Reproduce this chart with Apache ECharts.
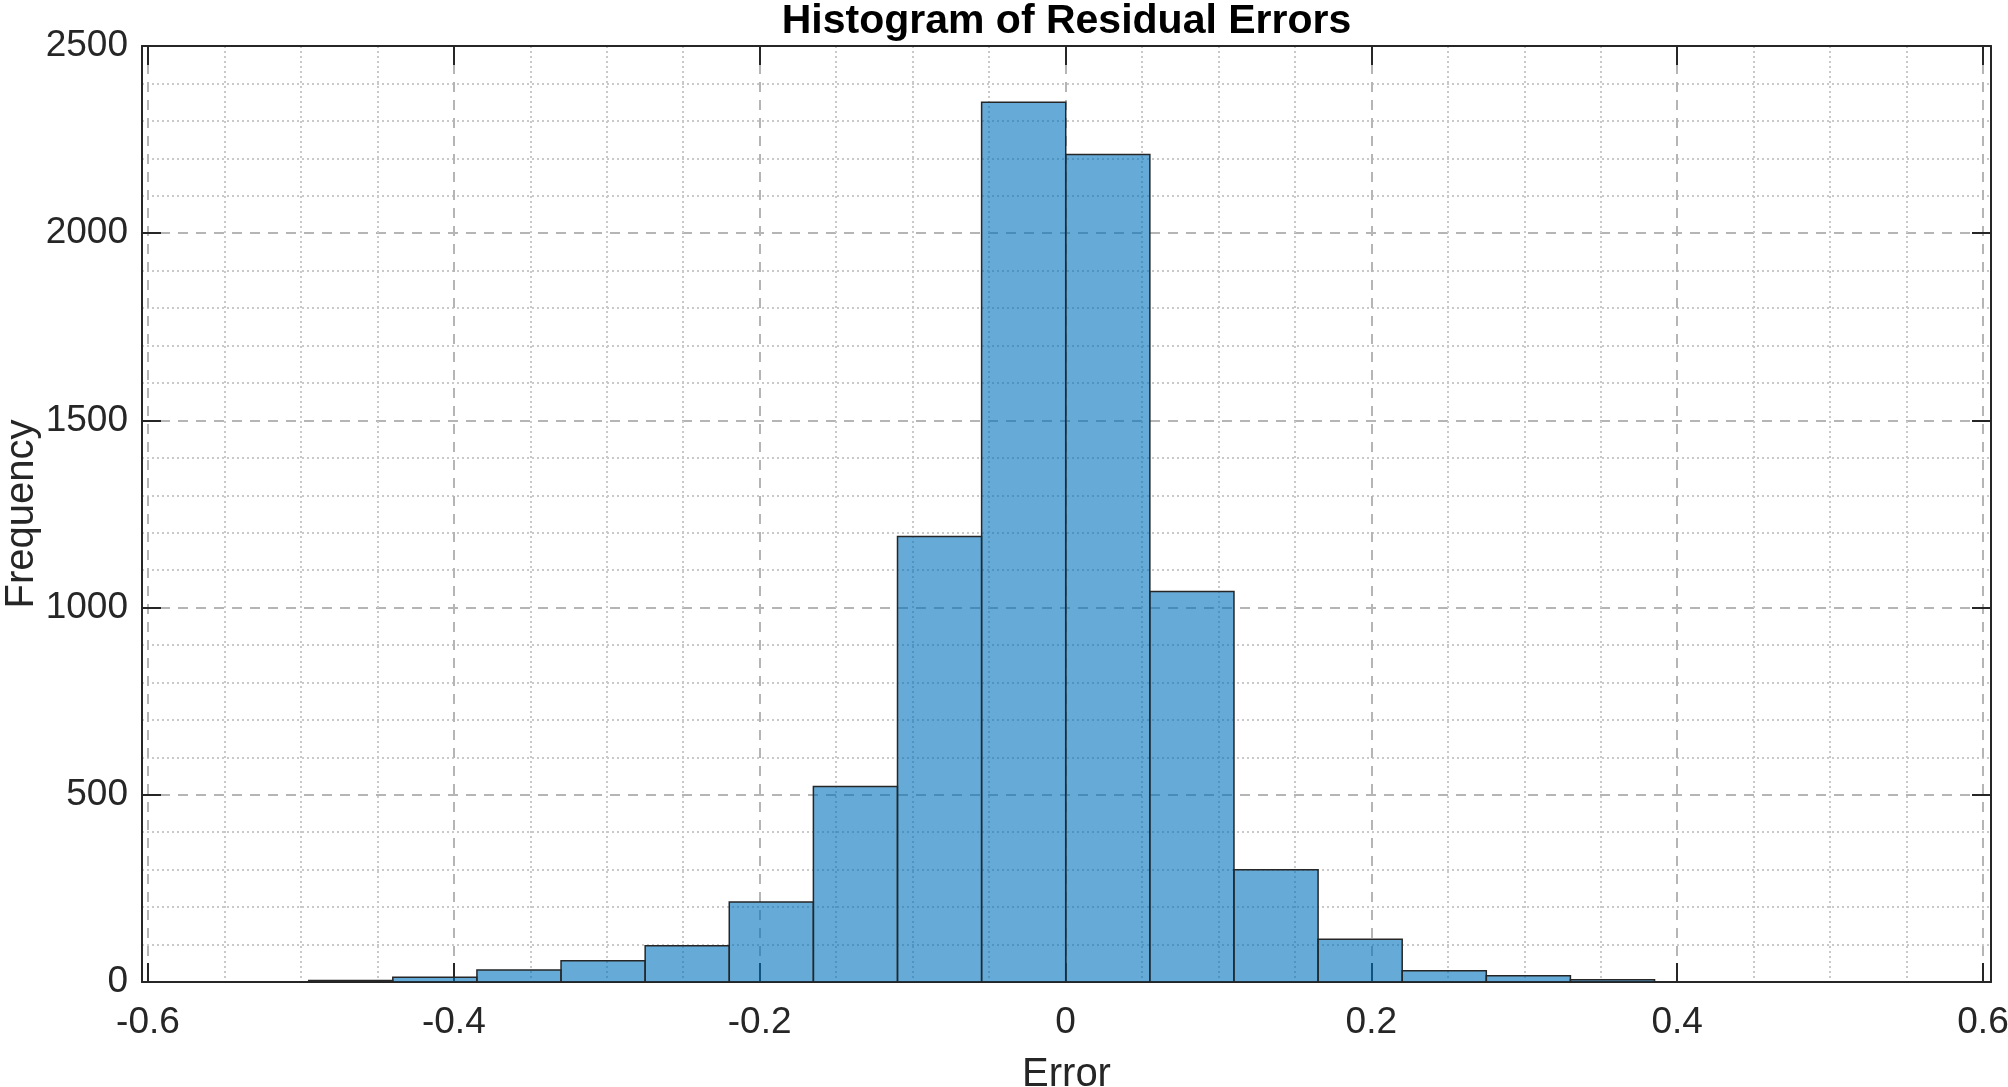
<!DOCTYPE html>
<html>
<head>
<meta charset="utf-8">
<script src="https://cdn.jsdelivr.net/npm/echarts@6/dist/echarts.min.js"></script>
<style>html,body{margin:0;padding:0;background:#fff}#c{width:2008px;height:1087px}</style>
</head>
<body>
<div id="c"></div>
<script>
// Histogram bin edges (Error) and counts (Frequency)
var binEdges = [-0.495, -0.44, -0.385, -0.33, -0.275, -0.22, -0.165, -0.11, -0.055, 0, 0.055, 0.11, 0.165, 0.22, 0.275, 0.33, 0.385];
var counts = [4, 13, 32, 57, 97, 214, 522, 1190, 2350, 2210, 1043, 300, 114, 30, 17, 6];
var xTicks = [-0.6, -0.4, -0.2, 0, 0.2, 0.4, 0.6];
var yTicks = [0, 500, 1000, 1500, 2000, 2500];

var data = [];
for (var i = 0; i < counts.length; i++) data.push([binEdges[i], binEdges[i + 1], counts[i]]);

var TXT = '#262626';
var FONT = '"Liberation Sans", Arial, sans-serif';
var majorLine = { show: true, lineStyle: { color: '#b5b5b5', width: 2, type: [10, 8] } };
var minorLine = { show: true, lineStyle: { color: '#c9c9c9', width: 2, type: [2, 3] } };
var frameLine = { show: true, onZero: false, lineStyle: { color: TXT, width: 2 } };
var noLine = { show: false, onZero: false };
var tickIn = { show: true, inside: true, length: 19, lineStyle: { color: TXT, width: 2 } };

var chart = echarts.init(document.getElementById('c'));
chart.setOption({
  animation: false,
  backgroundColor: '#fff',
  grid: [
    { left: 148, right: 25, top: 46, bottom: 105, containLabel: false, outerBoundsMode: 'none' },
    { left: 142, right: 17, top: 46, bottom: 105, containLabel: false, outerBoundsMode: 'none' }
  ],
  xAxis: [
    { // grid A bottom: ticks, labels, vertical grid lines
      type: 'value', gridIndex: 0, position: 'bottom',
      min: xTicks[0], max: xTicks[xTicks.length - 1], interval: 0.2,
      axisLine: noLine,
      axisTick: tickIn,
      axisLabel: { show: true, margin: 22, color: TXT, fontSize: 37, fontFamily: FONT },
      splitLine: majorLine,
      minorTick: { show: false, splitNumber: 4 },
      minorSplitLine: minorLine
    },
    { // grid A top ticks
      type: 'value', gridIndex: 0, position: 'top',
      min: xTicks[0], max: xTicks[xTicks.length - 1], interval: 0.2,
      axisLine: noLine,
      axisTick: tickIn,
      axisLabel: { show: false }, splitLine: { show: false }
    },
    { // grid B bottom: frame line + data
      type: 'value', gridIndex: 1, position: 'bottom',
      min: -0.604, max: 0.605,
      axisLine: frameLine,
      axisTick: { show: false }, axisLabel: { show: false }, splitLine: { show: false },
      name: 'Error', nameLocation: 'middle', nameGap: 73, nameMoveOverlap: false,
      nameTextStyle: { color: TXT, fontSize: 40, fontFamily: FONT }
    },
    { // grid B top frame, carries the title centred over the plot
      type: 'value', gridIndex: 1, position: 'top',
      min: -0.604, max: 0.605,
      axisLine: frameLine,
      axisTick: { show: false }, axisLabel: { show: false }, splitLine: { show: false },
      name: 'Histogram of Residual Errors', nameLocation: 'middle', nameGap: 4, nameMoveOverlap: false,
      nameTextStyle: { color: '#000', fontSize: 41, fontWeight: 'bold', fontFamily: FONT }
    }
  ],
  yAxis: [
    { type: 'value', gridIndex: 0, min: 0, max: 2500, show: false },
    {
      type: 'value', gridIndex: 1, position: 'left',
      min: yTicks[0], max: yTicks[yTicks.length - 1], interval: 500,
      axisLine: frameLine,
      axisTick: tickIn,
      axisLabel: { show: true, margin: 14, color: TXT, fontSize: 37, fontFamily: FONT,
        formatter: function (v) { return String(v); } },
      splitLine: majorLine,
      minorTick: { show: false, splitNumber: 5 },
      minorSplitLine: minorLine,
      name: 'Frequency', nameLocation: 'middle', nameGap: 100, nameRotate: 90, nameMoveOverlap: false,
      nameTextStyle: { color: TXT, fontSize: 40, fontFamily: FONT }
    },
    {
      type: 'value', gridIndex: 1, position: 'right',
      min: yTicks[0], max: yTicks[yTicks.length - 1], interval: 500,
      axisLine: frameLine,
      axisTick: tickIn,
      axisLabel: { show: false }, splitLine: { show: false }
    }
  ],
  series: [{
    type: 'custom',
    xAxisIndex: 2, yAxisIndex: 1,
    data: data,
    encode: { x: [0, 1], y: 2 },
    renderItem: function (params, api) {
      var p0 = api.coord([api.value(0), api.value(2)]);
      var p1 = api.coord([api.value(1), 0]);
      return {
        type: 'rect',
        shape: { x: p0[0], y: p0[1], width: p1[0] - p0[0], height: p1[1] - p0[1] },
        style: { fill: 'rgba(0,114,189,0.6)', stroke: '#262626', lineWidth: 1.5 }
      };
    }
  }]
});
</script>
</body>
</html>
